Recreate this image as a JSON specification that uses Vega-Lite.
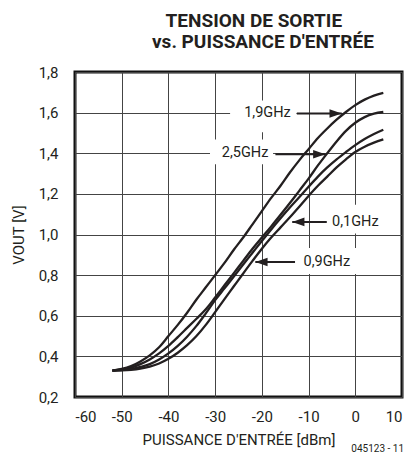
{
  "$schema": "https://vega.github.io/schema/vega-lite/v6.json",
  "width": 327,
  "height": 325,
  "autosize": {"type": "none"},
  "padding": {"left": 75, "top": 72, "right": 10, "bottom": 60},
  "background": "white",
  "config": {
    "font": "Roboto, sans-serif",
    "view": {"stroke": "#111111", "strokeWidth": 3},
    "axis": {
      "grid": true,
      "gridColor": "#444444",
      "gridWidth": 1,
      "ticks": false,
      "domain": false,
      "labelFont": "Roboto, sans-serif",
      "labelFontSize": 15,
      "labelColor": "#231f20",
      "titleFont": "Roboto, sans-serif",
      "titleFontSize": 15,
      "titleFontWeight": "normal",
      "titleColor": "#231f20"
    }
  },
  "title": {
    "text": ["\u200b\u2002\u2009TENSION DE SORTIE", "vs. PUISSANCE D'ENTRÉE"],
    "font": "Roboto, sans-serif",
    "fontWeight": "bold",
    "fontSize": 19,
    "lineHeight": 21,
    "color": "#231f20",
    "anchor": "start",
    "frame": "group",
    "dx": 77,
    "offset": 13
  },
  "datasets": {
    "curves": [
      {"f": "1,9GHz", "p": -52, "v": 0.330}, {"f": "1,9GHz", "p": -50, "v": 0.338}, {"f": "1,9GHz", "p": -48, "v": 0.352}, {"f": "1,9GHz", "p": -46, "v": 0.375}, {"f": "1,9GHz", "p": -44, "v": 0.405}, {"f": "1,9GHz", "p": -42, "v": 0.445}, {"f": "1,9GHz", "p": -40, "v": 0.500}, {"f": "1,9GHz", "p": -38, "v": 0.555}, {"f": "1,9GHz", "p": -36, "v": 0.615}, {"f": "1,9GHz", "p": -34, "v": 0.680}, {"f": "1,9GHz", "p": -32, "v": 0.740}, {"f": "1,9GHz", "p": -30, "v": 0.800}, {"f": "1,9GHz", "p": -28, "v": 0.860}, {"f": "1,9GHz", "p": -26, "v": 0.925}, {"f": "1,9GHz", "p": -24, "v": 0.985}, {"f": "1,9GHz", "p": -22, "v": 1.050}, {"f": "1,9GHz", "p": -20, "v": 1.115}, {"f": "1,9GHz", "p": -18, "v": 1.180}, {"f": "1,9GHz", "p": -16, "v": 1.240}, {"f": "1,9GHz", "p": -14, "v": 1.305}, {"f": "1,9GHz", "p": -12, "v": 1.365}, {"f": "1,9GHz", "p": -10, "v": 1.420}, {"f": "1,9GHz", "p": -8, "v": 1.475}, {"f": "1,9GHz", "p": -6, "v": 1.522}, {"f": "1,9GHz", "p": -4, "v": 1.565}, {"f": "1,9GHz", "p": -2, "v": 1.603}, {"f": "1,9GHz", "p": 0, "v": 1.637}, {"f": "1,9GHz", "p": 2, "v": 1.664}, {"f": "1,9GHz", "p": 4, "v": 1.684}, {"f": "1,9GHz", "p": 6, "v": 1.697},
      {"f": "2,5GHz", "p": -52, "v": 0.330}, {"f": "2,5GHz", "p": -50, "v": 0.336}, {"f": "2,5GHz", "p": -48, "v": 0.345}, {"f": "2,5GHz", "p": -46, "v": 0.362}, {"f": "2,5GHz", "p": -44, "v": 0.385}, {"f": "2,5GHz", "p": -42, "v": 0.415}, {"f": "2,5GHz", "p": -40, "v": 0.452}, {"f": "2,5GHz", "p": -38, "v": 0.495}, {"f": "2,5GHz", "p": -36, "v": 0.540}, {"f": "2,5GHz", "p": -34, "v": 0.585}, {"f": "2,5GHz", "p": -32, "v": 0.632}, {"f": "2,5GHz", "p": -30, "v": 0.690}, {"f": "2,5GHz", "p": -28, "v": 0.750}, {"f": "2,5GHz", "p": -26, "v": 0.810}, {"f": "2,5GHz", "p": -24, "v": 0.870}, {"f": "2,5GHz", "p": -22, "v": 0.930}, {"f": "2,5GHz", "p": -20, "v": 0.985}, {"f": "2,5GHz", "p": -18, "v": 1.040}, {"f": "2,5GHz", "p": -16, "v": 1.097}, {"f": "2,5GHz", "p": -14, "v": 1.155}, {"f": "2,5GHz", "p": -12, "v": 1.215}, {"f": "2,5GHz", "p": -10, "v": 1.275}, {"f": "2,5GHz", "p": -8, "v": 1.340}, {"f": "2,5GHz", "p": -6, "v": 1.400}, {"f": "2,5GHz", "p": -4, "v": 1.458}, {"f": "2,5GHz", "p": -2, "v": 1.510}, {"f": "2,5GHz", "p": 0, "v": 1.550}, {"f": "2,5GHz", "p": 2, "v": 1.578}, {"f": "2,5GHz", "p": 4, "v": 1.595}, {"f": "2,5GHz", "p": 6, "v": 1.603},
      {"f": "0,9GHz", "p": -52, "v": 0.330}, {"f": "0,9GHz", "p": -50, "v": 0.333}, {"f": "0,9GHz", "p": -48, "v": 0.338}, {"f": "0,9GHz", "p": -46, "v": 0.348}, {"f": "0,9GHz", "p": -44, "v": 0.362}, {"f": "0,9GHz", "p": -42, "v": 0.385}, {"f": "0,9GHz", "p": -40, "v": 0.415}, {"f": "0,9GHz", "p": -38, "v": 0.452}, {"f": "0,9GHz", "p": -36, "v": 0.497}, {"f": "0,9GHz", "p": -34, "v": 0.550}, {"f": "0,9GHz", "p": -32, "v": 0.612}, {"f": "0,9GHz", "p": -30, "v": 0.677}, {"f": "0,9GHz", "p": -28, "v": 0.735}, {"f": "0,9GHz", "p": -26, "v": 0.793}, {"f": "0,9GHz", "p": -24, "v": 0.852}, {"f": "0,9GHz", "p": -22, "v": 0.910}, {"f": "0,9GHz", "p": -20, "v": 0.968}, {"f": "0,9GHz", "p": -18, "v": 1.025}, {"f": "0,9GHz", "p": -16, "v": 1.080}, {"f": "0,9GHz", "p": -14, "v": 1.133}, {"f": "0,9GHz", "p": -12, "v": 1.183}, {"f": "0,9GHz", "p": -10, "v": 1.235}, {"f": "0,9GHz", "p": -8, "v": 1.285}, {"f": "0,9GHz", "p": -6, "v": 1.330}, {"f": "0,9GHz", "p": -4, "v": 1.370}, {"f": "0,9GHz", "p": -2, "v": 1.406}, {"f": "0,9GHz", "p": 0, "v": 1.440}, {"f": "0,9GHz", "p": 2, "v": 1.470}, {"f": "0,9GHz", "p": 4, "v": 1.495}, {"f": "0,9GHz", "p": 6, "v": 1.516},
      {"f": "0,1GHz", "p": -52, "v": 0.330}, {"f": "0,1GHz", "p": -50, "v": 0.331}, {"f": "0,1GHz", "p": -48, "v": 0.334}, {"f": "0,1GHz", "p": -46, "v": 0.340}, {"f": "0,1GHz", "p": -44, "v": 0.350}, {"f": "0,1GHz", "p": -42, "v": 0.365}, {"f": "0,1GHz", "p": -40, "v": 0.388}, {"f": "0,1GHz", "p": -38, "v": 0.418}, {"f": "0,1GHz", "p": -36, "v": 0.455}, {"f": "0,1GHz", "p": -34, "v": 0.500}, {"f": "0,1GHz", "p": -32, "v": 0.555}, {"f": "0,1GHz", "p": -30, "v": 0.618}, {"f": "0,1GHz", "p": -28, "v": 0.682}, {"f": "0,1GHz", "p": -26, "v": 0.745}, {"f": "0,1GHz", "p": -24, "v": 0.808}, {"f": "0,1GHz", "p": -22, "v": 0.870}, {"f": "0,1GHz", "p": -20, "v": 0.930}, {"f": "0,1GHz", "p": -18, "v": 0.985}, {"f": "0,1GHz", "p": -16, "v": 1.035}, {"f": "0,1GHz", "p": -14, "v": 1.085}, {"f": "0,1GHz", "p": -12, "v": 1.137}, {"f": "0,1GHz", "p": -10, "v": 1.190}, {"f": "0,1GHz", "p": -8, "v": 1.240}, {"f": "0,1GHz", "p": -6, "v": 1.285}, {"f": "0,1GHz", "p": -4, "v": 1.330}, {"f": "0,1GHz", "p": -2, "v": 1.370}, {"f": "0,1GHz", "p": 0, "v": 1.406}, {"f": "0,1GHz", "p": 2, "v": 1.432}, {"f": "0,1GHz", "p": 4, "v": 1.452}, {"f": "0,1GHz", "p": 6, "v": 1.468}
    ],
    "labels": [
      {"f": "1,9GHz", "lp": -18.8, "lv": 1.600, "bx1": -26.8, "bx2": -12.6, "by1": 1.504, "by2": 1.660, "a1": -12.5, "a2": -2.9, "av": 1.596, "dir": "right"},
      {"f": "2,5GHz", "lp": -23.6, "lv": 1.400, "bx1": -31.1, "bx2": -17.6, "by1": 1.346, "by2": 1.468, "a1": -17.1, "a2": -6.4, "av": 1.395, "dir": "right"},
      {"f": "0,1GHz", "lp": 0.0, "lv": 1.064, "bx1": -6.0, "bx2": 6.2, "by1": 1.005, "by2": 1.146, "a1": -6.1, "a2": -13.5, "av": 1.062, "dir": "left"},
      {"f": "0,9GHz", "lp": -6.1, "lv": 0.866, "bx1": -12.2, "bx2": 1.1, "by1": 0.805, "by2": 0.933, "a1": -12.9, "a2": -21.4, "av": 0.865, "dir": "left"}
    ],
    "note": [{"p": 4.8, "v": 0.2, "t": "045123 - 11"}]
  },
  "layer": [
    {
      "data": {"name": "labels"},
      "mark": {"type": "rect", "fill": "white", "stroke": null},
      "encoding": {
        "x": {"field": "bx1", "type": "quantitative", "scale": {"domain": [-60, 10], "nice": false}},
        "x2": {"field": "bx2"},
        "y": {"field": "by1", "type": "quantitative", "scale": {"domain": [0.2, 1.8], "nice": false}},
        "y2": {"field": "by2"}
      }
    },
    {
      "data": {"name": "curves"},
      "mark": {"type": "line", "color": "#231f20", "strokeWidth": 2.3, "interpolate": "monotone", "clip": true},
      "encoding": {
        "x": {"field": "p", "type": "quantitative", "scale": {"domain": [-60, 10], "nice": false},
          "axis": {"values": [-60, -50, -40, -30, -20, -10, 0, 10], "labelExpr": "replace(datum.label, '\u2212', '-')", "title": "PUISSANCE D'ENTRÉE [dBm]", "labelPadding": 12, "titlePadding": 8}},
        "y": {"field": "v", "type": "quantitative", "scale": {"domain": [0.2, 1.8], "nice": false},
          "axis": {"values": [0.2, 0.4, 0.6, 0.8, 1.0, 1.2, 1.4, 1.6, 1.8], "labelExpr": "replace(format(datum.value, '.1f'), '.', ',')", "title": "VOUT [V]", "labelPadding": 17, "titlePadding": 12}},
        "detail": {"field": "f", "type": "nominal"}
      }
    },
    {
      "data": {"name": "labels"},
      "mark": {"type": "rule", "color": "#231f20", "strokeWidth": 2},
      "encoding": {
        "x": {"field": "a1", "type": "quantitative"},
        "x2": {"field": "a2"},
        "y": {"field": "av", "type": "quantitative"}
      }
    },
    {
      "data": {"name": "labels"},
      "transform": [{"filter": "datum.dir === 'right'"}],
      "mark": {"type": "point", "shape": "M0,0L-2,-0.7L-2,0.7Z", "size": 150, "filled": true, "color": "#231f20", "opacity": 1},
      "encoding": {
        "x": {"field": "a2", "type": "quantitative"},
        "y": {"field": "av", "type": "quantitative"}
      }
    },
    {
      "data": {"name": "labels"},
      "transform": [{"filter": "datum.dir === 'left'"}],
      "mark": {"type": "point", "shape": "M0,0L2,-0.7L2,0.7Z", "size": 150, "filled": true, "color": "#231f20", "opacity": 1},
      "encoding": {
        "x": {"field": "a2", "type": "quantitative"},
        "y": {"field": "av", "type": "quantitative"}
      }
    },
    {
      "data": {"name": "labels"},
      "mark": {"type": "text", "fontSize": 14.5, "color": "#231f20", "baseline": "middle", "align": "center"},
      "encoding": {
        "x": {"field": "lp", "type": "quantitative"},
        "y": {"field": "lv", "type": "quantitative"},
        "text": {"field": "f"}
      }
    },
    {
      "data": {"name": "note"},
      "mark": {"type": "text", "fontSize": 10, "color": "#231f20", "baseline": "alphabetic", "align": "center", "dy": 55},
      "encoding": {
        "x": {"field": "p", "type": "quantitative"},
        "y": {"field": "v", "type": "quantitative"},
        "text": {"field": "t"}
      }
    }
  ]
}
